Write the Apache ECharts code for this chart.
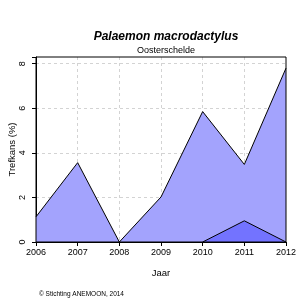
<!DOCTYPE html>
<html><head><meta charset="utf-8">
<script src="https://cdn.jsdelivr.net/npm/echarts@6/dist/echarts.min.js"></script>
<style>html,body{margin:0;padding:0;background:#fff}#c{width:300px;height:300px}</style>
</head><body><div id="c"></div>
<script>
const years = [2006, 2007, 2008, 2009, 2010, 2011, 2012];
const totalValues = [1.13, 3.56, 0, 2.02, 5.85, 3.48, 7.8];
const subYears = [2010, 2011, 2012];
const subValues = [0, 0.95, 0];
const yTicks = [0, 2, 4, 6, 8];

const chart = echarts.init(document.getElementById('c'), null, {renderer: 'canvas'});
const font = 'Liberation Sans, Arial, sans-serif';
chart.setOption({
  animation: false,
  backgroundColor: '#fff',
  title: [
    {text: 'Palaemon macrodactylus', left: 161, top: 26, textAlign: 'center',
     textStyle: {fontFamily: font, fontSize: 12, fontWeight: 'bold', fontStyle: 'italic', color: '#000'}},
    {text: 'Oosterschelde', left: 161, top: 41, textAlign: 'center',
     textStyle: {fontFamily: font, fontSize: 9, fontWeight: 'normal', color: '#000'}},
    {text: '© Stichting ANEMOON, 2014', left: 34, top: 286,
     textStyle: {fontFamily: font, fontSize: 6.5, fontWeight: 'normal', color: '#000'}}
  ],
  grid: {left: 36, right: 14, top: 57, bottom: 58, containLabel: false, outerBoundsMode: 'none',
    show: true, borderColor: '#000', borderWidth: 1, backgroundColor: 'transparent', z: 5},
  xAxis: {
    type: 'value', min: 2006, max: 2012, interval: 1,
    name: 'Jaar', nameLocation: 'middle', nameGap: 26,
    nameTextStyle: {fontFamily: font, fontSize: 9.5, color: '#000'},
    axisLine: {show: true, lineStyle: {color: '#000'}},
    axisTick: {show: true, length: 4, inside: false, lineStyle: {color: '#000'}},
    axisLabel: {fontFamily: font, fontSize: 9, color: '#000', margin: 6, formatter: v => String(v)},
    splitLine: {show: true, showMinLine: false, showMaxLine: false, lineStyle: {color: '#d3d3d3', type: [3, 3]}}
  },
  yAxis: {
    type: 'value', min: 0, max: 8.3, interval: 2,
    name: 'Trefkans (%)', nameLocation: 'middle', nameGap: 19, nameMoveOverlap: false,
    nameTextStyle: {fontFamily: font, fontSize: 9.5, color: '#000'},
    axisLine: {show: true, lineStyle: {color: '#000'}},
    axisTick: {show: true, length: 4, lineStyle: {color: '#000'}},
    axisLabel: {fontFamily: font, fontSize: 9, color: '#000', margin: 9, rotate: 90,
      formatter: v => (yTicks.indexOf(v) >= 0 ? String(v) : '')},
    splitLine: {show: true, showMinLine: false, showMaxLine: false, lineStyle: {color: '#d3d3d3', type: [3, 3]}}
  },
  series: [
    {type: 'line', data: years.map((y, i) => [y, totalValues[i]]), showSymbol: false, symbol: 'none',
     lineStyle: {color: '#000', width: 1}, areaStyle: {color: '#a3a3fd', opacity: 1, origin: 'start'}, z: 2},
    {type: 'line', data: subYears.map((y, i) => [y, subValues[i]]), showSymbol: false, symbol: 'none',
     lineStyle: {color: '#000', width: 1}, areaStyle: {color: '#7373ff', opacity: 1, origin: 'start'}, z: 3}
  ]
});
</script></body></html>
